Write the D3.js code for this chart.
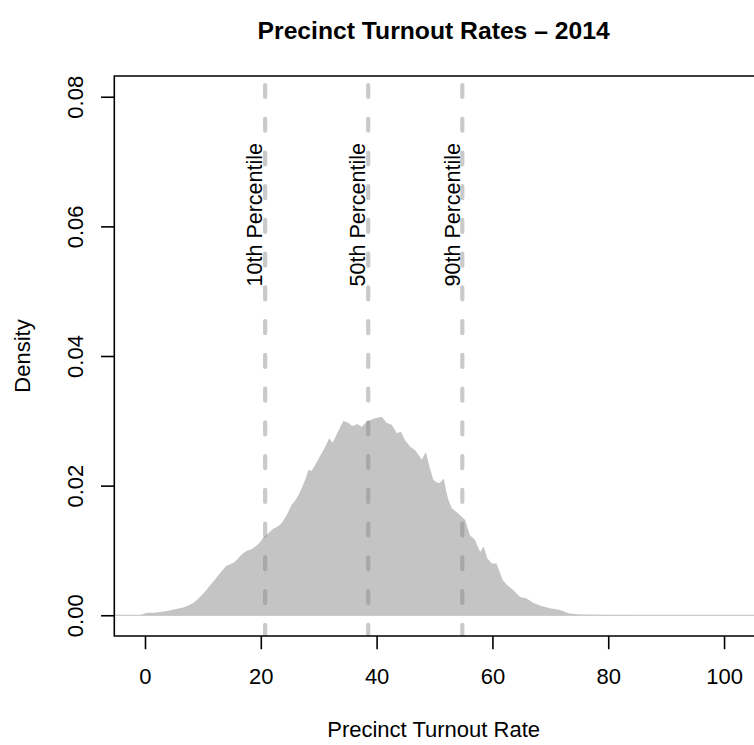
<!DOCTYPE html>
<html>
<head>
<meta charset="utf-8">
<script src="https://cdn.jsdelivr.net/npm/d3@7"></script>
<style>
  html, body { margin: 0; padding: 0; background: #fff; overflow: hidden; }
  svg { display: block; }
  svg text { font-family: "Liberation Sans", Arial, Helvetica, sans-serif; fill: #000; }
</style>
</head>
<body>
<svg id="chart" width="754" height="745"></svg>
<script>
// ---- Data ----
const densX = [-1.0, -0.5, 0.0, 0.5, 1.5, 2.6, 3.5, 4.6, 5.6, 6.6, 7.5, 8.3, 9.0, 9.8, 10.5, 11.2, 12.0, 12.7, 13.4, 14.0,
  14.8, 15.5, 16.2, 17.0, 17.7, 18.4, 19.2, 19.9, 20.4, 21.0, 21.6, 22.2, 22.9, 23.6, 24.5, 25.3, 26.0, 26.5, 27.3, 27.8,
  28.2, 28.8, 29.7, 30.5, 31.2, 31.8, 32.4, 33.2, 33.8, 34.3, 34.7, 35.1, 35.6, 36.0, 36.6, 37.0, 37.4, 37.9, 38.3, 38.9,
  39.7, 40.3, 40.9, 41.3, 41.7, 42.6, 43.5, 44.2, 44.9, 45.8, 46.6, 47.2, 47.8, 48.5, 49.2, 49.8, 50.4, 50.9, 51.6, 52.0,
  52.4, 53.0, 54.1, 54.7, 55.3, 55.7, 56.1, 57.0, 57.6, 57.9, 58.5, 59.1, 59.9, 60.7, 61.2, 61.8, 62.7, 63.6, 64.2, 64.8,
  65.9, 67.1, 68.2, 69.9, 71.7, 73.1, 75.1, 80.0, 90.0, 101.0];
const densY = [0.0000, 0.0001, 0.0003, 0.0004, 0.0004, 0.0005, 0.0006, 0.0008, 0.0010, 0.0012, 0.0015, 0.0019, 0.0024, 0.0031, 0.0038, 0.0046, 0.0054, 0.0062, 0.0070, 0.0076,
  0.0079, 0.0082, 0.0089, 0.0096, 0.0100, 0.0102, 0.0107, 0.0113, 0.0120, 0.0124, 0.0129, 0.0134, 0.0137, 0.0142, 0.0155, 0.0170, 0.0178, 0.0185, 0.0201, 0.0212,
  0.0224, 0.0223, 0.0237, 0.0250, 0.0261, 0.0273, 0.0266, 0.0281, 0.0292, 0.0300, 0.0298, 0.0297, 0.0293, 0.0292, 0.0295, 0.0293, 0.0291, 0.0295, 0.0299, 0.0301,
  0.0304, 0.0305, 0.0306, 0.0302, 0.0297, 0.0294, 0.0281, 0.0283, 0.0270, 0.0260, 0.0255, 0.0248, 0.0240, 0.0252, 0.0227, 0.0209, 0.0205, 0.0204, 0.0211, 0.0192,
  0.0178, 0.0165, 0.0157, 0.0152, 0.0147, 0.0135, 0.0124, 0.0116, 0.0103, 0.0098, 0.0106, 0.0088, 0.0080, 0.0080, 0.0068, 0.0054, 0.0045, 0.0039, 0.0033, 0.0028,
  0.0026, 0.0019, 0.0015, 0.0011, 0.0008, 0.0003, 0.0001, 0.00005, 0.00002, 0.0];
const percentileValues = [20.75, 38.55, 54.8];
const percentileLabels = ["10th Percentile", "50th Percentile", "90th Percentile"];
const xTicks = [0, 20, 40, 60, 80, 100];
const yTicks = [0.00, 0.02, 0.04, 0.06, 0.08];
const titleText = "Precinct Turnout Rates \u2013 2014";
const xLabel = "Precinct Turnout Rate";
const yLabel = "Density";

// ---- Layout ----
const plot = { left: 114.3, top: 76, bottom: 636, right: 753 };
const x = d3.scaleLinear().domain([-5.3, 105.0]).range([plot.left, plot.right]);
const y = d3.scaleLinear().domain([-0.0032, 0.0832]).range([plot.bottom, plot.top]);

const svg = d3.select("#chart");
const fontSize = 22;
const lineH = 26.5;

svg.append("defs").append("clipPath").attr("id", "plotClip")
  .append("rect").attr("x", plot.left).attr("y", plot.top)
  .attr("width", 754 - plot.left).attr("height", plot.bottom - plot.top);

const g = svg.append("g").attr("clip-path", "url(#plotClip)");

// zero line
g.append("line")
  .attr("x1", plot.left).attr("x2", 754)
  .attr("y1", y(0)).attr("y2", y(0))
  .attr("stroke", "#bebebe").attr("stroke-width", 1.2);

// density fill
const pts = densX.map((d, i) => [d, densY[i]]);
const area = d3.area().x(d => x(d[0])).y0(y(0)).y1(d => y(d[1]));
g.append("path").datum(pts).attr("d", area)
  .attr("fill", "#c4c4c4").attr("stroke", "none");

// percentile lines
g.selectAll("line.pct").data(percentileValues).enter().append("line")
  .attr("class", "pct")
  .attr("x1", d => x(d)).attr("x2", d => x(d))
  .attr("y1", plot.top).attr("y2", plot.bottom)
  .attr("stroke", "rgba(128,128,128,0.42)")
  .attr("stroke-width", 4.2)
  .attr("stroke-linecap", "round")
  .attr("stroke-dasharray", "12,21.74")
  .attr("stroke-dashoffset", 24.74);

// percentile labels
svg.selectAll("text.pct").data(percentileValues).enter().append("text")
  .attr("class", "pct")
  .attr("transform", d => `translate(${x(d) - 2.8},${y(0.0618)}) rotate(-90)`)
  .attr("text-anchor", "middle")
  .attr("font-size", 21.5)
  .text((d, i) => percentileLabels[i]);

// box (right side lies outside the picture)
svg.append("path")
  .attr("d", `M${754},${plot.top} L${plot.left},${plot.top} L${plot.left},${plot.bottom} L${754},${plot.bottom}`)
  .attr("fill", "none").attr("stroke", "#000").attr("stroke-width", 1.6);

// x axis ticks and labels
const xAxis = d3.axisBottom(x).tickValues(xTicks).tickSize(lineH / 2).tickSizeOuter(0);
const gx = svg.append("g").attr("transform", `translate(0,${plot.bottom})`).call(xAxis);
gx.select(".domain").remove();
gx.selectAll(".tick line").attr("stroke", "#000").attr("stroke-width", 1.6);
gx.selectAll(".tick text").attr("font-size", fontSize).attr("font-family", null)
  .attr("dy", null).attr("y", 1.8 * lineH);

// y axis ticks and labels
const yAxis = d3.axisLeft(y).tickValues(yTicks).tickSize(lineH / 2).tickSizeOuter(0).tickFormat(d3.format(".2f"));
const gy = svg.append("g").attr("transform", `translate(${plot.left},0)`).call(yAxis);
gy.select(".domain").remove();
gy.selectAll(".tick line").attr("stroke", "#000").attr("stroke-width", 1.6);
gy.selectAll(".tick text").attr("font-size", fontSize).attr("font-family", null)
  .attr("x", null).attr("dy", null)
  .attr("text-anchor", "middle")
  .attr("transform", `translate(${-1.2 * lineH},0) rotate(-90)`);

// axis titles
svg.append("text")
  .attr("x", (plot.left + plot.right) / 2).attr("y", plot.bottom + 3.8 * lineH)
  .attr("text-anchor", "middle").attr("font-size", fontSize).text(xLabel);
svg.append("text")
  .attr("transform", `translate(${plot.left - 3.2 * lineH},${(plot.top + plot.bottom) / 2}) rotate(-90)`)
  .attr("text-anchor", "middle").attr("font-size", fontSize).text(yLabel);

// title
svg.append("text")
  .attr("x", (plot.left + plot.right) / 2).attr("y", 39)
  .attr("text-anchor", "middle").attr("font-size", 24.7).attr("font-weight", "bold").text(titleText);
</script>
</body>
</html>
